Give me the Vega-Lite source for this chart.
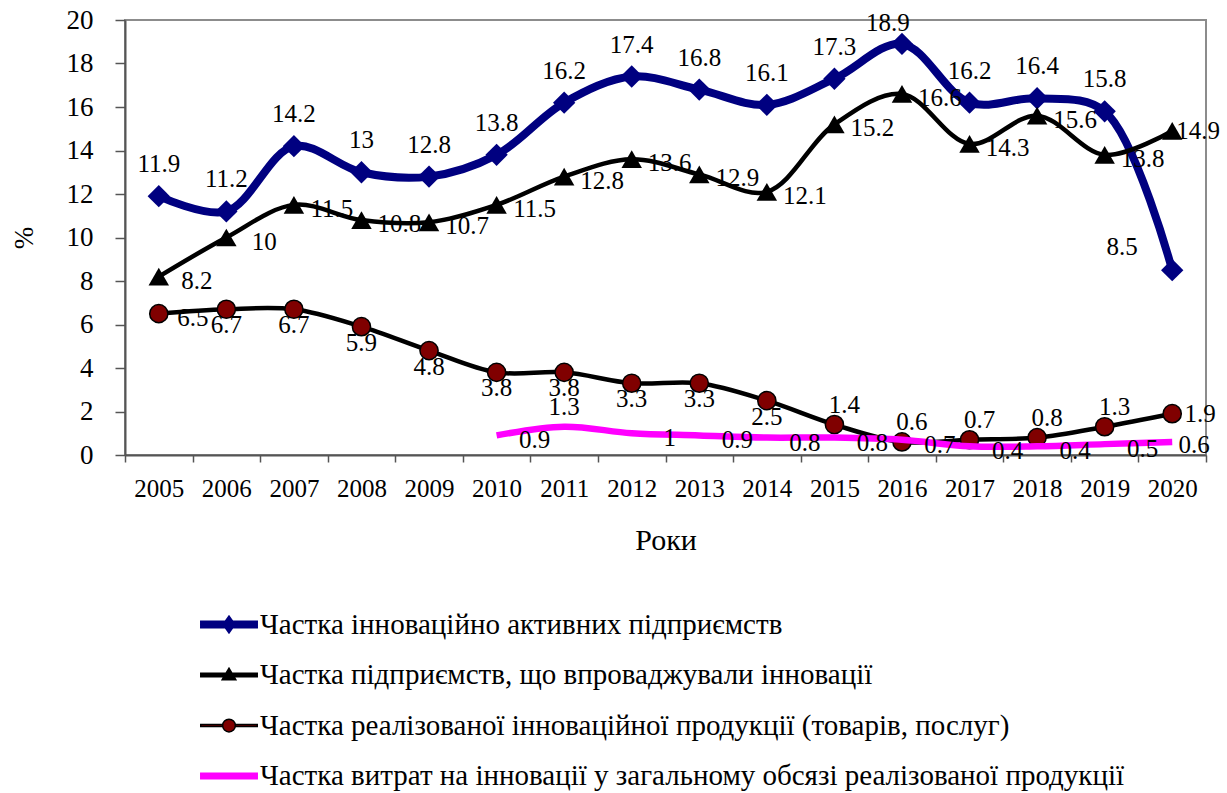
{
  "$schema": "https://vega.github.io/schema/vega-lite/v6.json",
  "width": 1081,
  "height": 435,
  "autosize": {"type": "none"},
  "padding": {"left": 125, "top": 20, "right": 21, "bottom": 338},
  "background": "white",
  "config": {
    "view": {"stroke": "#8c8c8c", "strokeWidth": 2},
    "axis": {
      "labelFont": "Liberation Serif",
      "titleFont": "Liberation Serif",
      "labelColor": "#000000",
      "titleColor": "#000000",
      "titleFontWeight": "normal",
      "grid": false,
      "domainColor": "#555555",
      "domainWidth": 2,
      "tickColor": "#555555",
      "tickWidth": 1.5
    },
    "legend": {
      "title": null,
      "orient": "none",
      "legendX": 89.5,
      "legendY": 590,
      "direction": "vertical",
      "labelFont": "Liberation Serif",
      "labelFontSize": 29,
      "labelColor": "#000000",
      "labelLimit": 0,
      "symbolSize": 289,
      "symbolStrokeWidth": 1.5,
      "symbolFillColor": "#000000",
      "symbolOpacity": 1,
      "rowPadding": 20.5,
      "labelOffset": 16.5,
      "symbolOffset": 0
    }
  },
  "datasets": {
    "d": [
      {"series": "Частка інноваційно активних підприємств", "year": 2005, "value": 11.9},
      {"series": "Частка інноваційно активних підприємств", "year": 2006, "value": 11.2},
      {"series": "Частка інноваційно активних підприємств", "year": 2007, "value": 14.2},
      {"series": "Частка інноваційно активних підприємств", "year": 2008, "value": 13},
      {"series": "Частка інноваційно активних підприємств", "year": 2009, "value": 12.8},
      {"series": "Частка інноваційно активних підприємств", "year": 2010, "value": 13.8},
      {"series": "Частка інноваційно активних підприємств", "year": 2011, "value": 16.2},
      {"series": "Частка інноваційно активних підприємств", "year": 2012, "value": 17.4},
      {"series": "Частка інноваційно активних підприємств", "year": 2013, "value": 16.8},
      {"series": "Частка інноваційно активних підприємств", "year": 2014, "value": 16.1},
      {"series": "Частка інноваційно активних підприємств", "year": 2015, "value": 17.3},
      {"series": "Частка інноваційно активних підприємств", "year": 2016, "value": 18.9},
      {"series": "Частка інноваційно активних підприємств", "year": 2017, "value": 16.2},
      {"series": "Частка інноваційно активних підприємств", "year": 2018, "value": 16.4},
      {"series": "Частка інноваційно активних підприємств", "year": 2019, "value": 15.8},
      {"series": "Частка інноваційно активних підприємств", "year": 2020, "value": 8.5},
      {"series": "Частка підприємств, що впроваджували інновації", "year": 2005, "value": 8.2},
      {"series": "Частка підприємств, що впроваджували інновації", "year": 2006, "value": 10},
      {"series": "Частка підприємств, що впроваджували інновації", "year": 2007, "value": 11.5},
      {"series": "Частка підприємств, що впроваджували інновації", "year": 2008, "value": 10.8},
      {"series": "Частка підприємств, що впроваджували інновації", "year": 2009, "value": 10.7},
      {"series": "Частка підприємств, що впроваджували інновації", "year": 2010, "value": 11.5},
      {"series": "Частка підприємств, що впроваджували інновації", "year": 2011, "value": 12.8},
      {"series": "Частка підприємств, що впроваджували інновації", "year": 2012, "value": 13.6},
      {"series": "Частка підприємств, що впроваджували інновації", "year": 2013, "value": 12.9},
      {"series": "Частка підприємств, що впроваджували інновації", "year": 2014, "value": 12.1},
      {"series": "Частка підприємств, що впроваджували інновації", "year": 2015, "value": 15.2},
      {"series": "Частка підприємств, що впроваджували інновації", "year": 2016, "value": 16.6},
      {"series": "Частка підприємств, що впроваджували інновації", "year": 2017, "value": 14.3},
      {"series": "Частка підприємств, що впроваджували інновації", "year": 2018, "value": 15.6},
      {"series": "Частка підприємств, що впроваджували інновації", "year": 2019, "value": 13.8},
      {"series": "Частка підприємств, що впроваджували інновації", "year": 2020, "value": 14.9},
      {"series": "Частка реалізованої інноваційної продукції (товарів, послуг)", "year": 2005, "value": 6.5},
      {"series": "Частка реалізованої інноваційної продукції (товарів, послуг)", "year": 2006, "value": 6.7},
      {"series": "Частка реалізованої інноваційної продукції (товарів, послуг)", "year": 2007, "value": 6.7},
      {"series": "Частка реалізованої інноваційної продукції (товарів, послуг)", "year": 2008, "value": 5.9},
      {"series": "Частка реалізованої інноваційної продукції (товарів, послуг)", "year": 2009, "value": 4.8},
      {"series": "Частка реалізованої інноваційної продукції (товарів, послуг)", "year": 2010, "value": 3.8},
      {"series": "Частка реалізованої інноваційної продукції (товарів, послуг)", "year": 2011, "value": 3.8},
      {"series": "Частка реалізованої інноваційної продукції (товарів, послуг)", "year": 2012, "value": 3.3},
      {"series": "Частка реалізованої інноваційної продукції (товарів, послуг)", "year": 2013, "value": 3.3},
      {"series": "Частка реалізованої інноваційної продукції (товарів, послуг)", "year": 2014, "value": 2.5},
      {"series": "Частка реалізованої інноваційної продукції (товарів, послуг)", "year": 2015, "value": 1.4},
      {"series": "Частка реалізованої інноваційної продукції (товарів, послуг)", "year": 2016, "value": 0.6},
      {"series": "Частка реалізованої інноваційної продукції (товарів, послуг)", "year": 2017, "value": 0.7},
      {"series": "Частка реалізованої інноваційної продукції (товарів, послуг)", "year": 2018, "value": 0.8},
      {"series": "Частка реалізованої інноваційної продукції (товарів, послуг)", "year": 2019, "value": 1.3},
      {"series": "Частка реалізованої інноваційної продукції (товарів, послуг)", "year": 2020, "value": 1.9},
      {"series": "Частка витрат на інновації у загальному обсязі реалізованої продукції", "year": 2010, "value": 0.9},
      {"series": "Частка витрат на інновації у загальному обсязі реалізованої продукції", "year": 2011, "value": 1.3},
      {"series": "Частка витрат на інновації у загальному обсязі реалізованої продукції", "year": 2012, "value": 1},
      {"series": "Частка витрат на інновації у загальному обсязі реалізованої продукції", "year": 2013, "value": 0.9},
      {"series": "Частка витрат на інновації у загальному обсязі реалізованої продукції", "year": 2014, "value": 0.8},
      {"series": "Частка витрат на інновації у загальному обсязі реалізованої продукції", "year": 2015, "value": 0.8},
      {"series": "Частка витрат на інновації у загальному обсязі реалізованої продукції", "year": 2016, "value": 0.7},
      {"series": "Частка витрат на інновації у загальному обсязі реалізованої продукції", "year": 2017, "value": 0.4},
      {"series": "Частка витрат на інновації у загальному обсязі реалізованої продукції", "year": 2018, "value": 0.4},
      {"series": "Частка витрат на інновації у загальному обсязі реалізованої продукції", "year": 2019, "value": 0.5},
      {"series": "Частка витрат на інновації у загальному обсязі реалізованої продукції", "year": 2020, "value": 0.6}
    ]
  },
  "data": {"name": "d"},
  "encoding": {
    "x": {
      "field": "year",
      "type": "ordinal",
      "scale": {"type": "band", "paddingInner": 0, "paddingOuter": 0},
      "axis": {
        "title": "Роки",
        "titleFontSize": 30,
        "titlePadding": 24,
        "labelFontSize": 25,
        "labelAngle": 0,
        "labelPadding": 14,
        "tickBand": "extent",
        "tickSize": 7
      }
    },
    "y": {
      "field": "value",
      "type": "quantitative",
      "scale": {"domain": [0, 20], "nice": false, "zero": true},
      "axis": {
        "title": "%",
        "titleFontSize": 27,
        "titlePadding": 28,
        "labelFontSize": 27,
        "labelPadding": 22,
        "tickSize": 10,
        "values": [0, 2, 4, 6, 8, 10, 12, 14, 16, 18, 20]
      }
    }
  },
  "layer": [
    {
      "transform": [{"filter": {"field": "series", "equal": "Частка інноваційно активних підприємств"}}],
      "mark": {"type": "line", "color": "#000080", "strokeWidth": 8, "interpolate": "catmull-rom"}
    },
    {
      "transform": [{"filter": {"field": "series", "equal": "Частка інноваційно активних підприємств"}}],
      "mark": {"type": "point", "shape": "diamond", "filled": true, "color": "#000080", "size": 500, "opacity": 1}
    },
    {
      "transform": [{"filter": {"field": "series", "equal": "Частка підприємств, що впроваджували інновації"}}],
      "mark": {"type": "line", "color": "#000000", "strokeWidth": 4.5, "interpolate": "catmull-rom"}
    },
    {
      "transform": [{"filter": {"field": "series", "equal": "Частка підприємств, що впроваджували інновації"}}],
      "mark": {"type": "point", "shape": "triangle-up", "filled": true, "color": "#000000", "size": 420, "opacity": 1}
    },
    {
      "transform": [{"filter": {"field": "series", "equal": "Частка реалізованої інноваційної продукції (товарів, послуг)"}}],
      "mark": {"type": "line", "color": "#000000", "strokeWidth": 4.5, "interpolate": "catmull-rom"}
    },
    {
      "transform": [{"filter": {"field": "series", "equal": "Частка реалізованої інноваційної продукції (товарів, послуг)"}}],
      "mark": {"type": "point", "shape": "circle", "filled": true, "fill": "#800000", "stroke": "#000000", "strokeWidth": 1.5, "size": 330, "opacity": 1}
    },
    {
      "transform": [{"filter": {"field": "series", "equal": "Частка витрат на інновації у загальному обсязі реалізованої продукції"}}],
      "mark": {"type": "line", "color": "#ff00ff", "strokeWidth": 6.5, "interpolate": "catmull-rom"}
    },
    {
      "mark": {"type": "point", "filled": true, "opacity": 0, "strokeWidth": 1.5},
      "encoding": {
        "fill": {
          "field": "series",
          "type": "nominal",
          "scale": {
            "domain": ["Частка інноваційно активних підприємств", "Частка підприємств, що впроваджували інновації", "Частка реалізованої інноваційної продукції (товарів, послуг)", "Частка витрат на інновації у загальному обсязі реалізованої продукції"],
            "range": ["#000080", "#000000", "#800000", "#ff00ff"]
          }
        },
        "stroke": {
          "field": "series",
          "type": "nominal",
          "scale": {
            "domain": ["Частка інноваційно активних підприємств", "Частка підприємств, що впроваджували інновації", "Частка реалізованої інноваційної продукції (товарів, послуг)", "Частка витрат на інновації у загальному обсязі реалізованої продукції"],
            "range": ["#000080", "#000000", "#000000", "#ff00ff"]
          }
        },
        "shape": {
          "field": "series",
          "type": "nominal",
          "scale": {
            "domain": ["Частка інноваційно активних підприємств", "Частка підприємств, що впроваджували інновації", "Частка реалізованої інноваційної продукції (товарів, послуг)", "Частка витрат на інновації у загальному обсязі реалізованої продукції"],
            "range": [
              "M-3.32,-0.38L3.32,-0.38L3.32,0.38L-3.32,0.38Z M-0.7,0L0,-1L0.7,0L0,1Z",
              "M-3.32,-0.2L3.32,-0.2L3.32,0.2L-3.32,0.2Z M-0.8,0.55L0,-0.8L0.8,0.55Z",
              "M-3.32,-0.12L-0.75,-0.12L-0.75,0.12L-3.32,0.12Z M0.75,-0.12L3.32,-0.12L3.32,0.12L0.75,0.12Z M-0.75,0A0.75,0.75 0 1,1 0.75,0A0.75,0.75 0 1,1 -0.75,0Z",
              "M-3.32,-0.32L3.32,-0.32L3.32,0.32L-3.32,0.32Z"
            ]
          }
        }
      }
    },
    {
      "transform": [{"filter": "datum.series === 'Частка інноваційно активних підприємств' && datum.year < 2020 && datum.year !== 2016"}],
      "mark": {"type": "text", "font": "Liberation Serif", "fontSize": 25, "color": "#000000", "baseline": "middle", "align": "center", "dy": -32},
      "encoding": {"text": {"field": "value", "type": "nominal"}}
    },
    {
      "transform": [{"filter": "datum.series === 'Частка інноваційно активних підприємств' && datum.year === 2016"}],
      "mark": {"type": "text", "font": "Liberation Serif", "fontSize": 25, "color": "#000000", "baseline": "middle", "align": "center", "dx": -14, "dy": -21},
      "encoding": {"text": {"field": "value", "type": "nominal"}}
    },
    {
      "transform": [{"filter": "datum.series === 'Частка інноваційно активних підприємств' && datum.year === 2020"}],
      "mark": {"type": "text", "font": "Liberation Serif", "fontSize": 25, "color": "#000000", "baseline": "middle", "align": "center", "dx": -50, "dy": -23},
      "encoding": {"text": {"field": "value", "type": "nominal"}}
    },
    {
      "transform": [{"filter": "datum.series === 'Частка підприємств, що впроваджували інновації' && datum.year < 2020"}],
      "mark": {"type": "text", "font": "Liberation Serif", "fontSize": 25, "color": "#000000", "baseline": "middle", "align": "center", "dx": 38, "dy": 4},
      "encoding": {"text": {"field": "value", "type": "nominal"}}
    },
    {
      "transform": [{"filter": "datum.series === 'Частка підприємств, що впроваджували інновації' && datum.year === 2020"}],
      "mark": {"type": "text", "font": "Liberation Serif", "fontSize": 25, "color": "#000000", "baseline": "middle", "align": "center", "dx": 26, "dy": 0},
      "encoding": {"text": {"field": "value", "type": "nominal"}}
    },
    {
      "transform": [{"filter": "datum.series === 'Частка реалізованої інноваційної продукції (товарів, послуг)' && datum.year <= 2014 && datum.year !== 2005"}],
      "mark": {"type": "text", "font": "Liberation Serif", "fontSize": 25, "color": "#000000", "baseline": "middle", "align": "center", "dy": 16},
      "encoding": {"text": {"field": "value", "type": "nominal"}}
    },
    {
      "transform": [{"filter": "datum.series === 'Частка реалізованої інноваційної продукції (товарів, послуг)' && datum.year === 2005"}],
      "mark": {"type": "text", "font": "Liberation Serif", "fontSize": 25, "color": "#000000", "baseline": "middle", "align": "center", "dx": 34, "dy": 4},
      "encoding": {"text": {"field": "value", "type": "nominal"}}
    },
    {
      "transform": [{"filter": "datum.series === 'Частка реалізованої інноваційної продукції (товарів, послуг)' && datum.year >= 2015 && datum.year <= 2019"}],
      "mark": {"type": "text", "font": "Liberation Serif", "fontSize": 25, "color": "#000000", "baseline": "middle", "align": "center", "dx": 10, "dy": -20},
      "encoding": {"text": {"field": "value", "type": "nominal"}}
    },
    {
      "transform": [{"filter": "datum.series === 'Частка реалізованої інноваційної продукції (товарів, послуг)' && datum.year === 2020"}],
      "mark": {"type": "text", "font": "Liberation Serif", "fontSize": 25, "color": "#000000", "baseline": "middle", "align": "center", "dx": 28, "dy": 0},
      "encoding": {"text": {"field": "value", "type": "nominal"}}
    },
    {
      "transform": [{"filter": "datum.series === 'Частка витрат на інновації у загальному обсязі реалізованої продукції' && datum.year !== 2011 && datum.year !== 2020"}],
      "mark": {"type": "text", "font": "Liberation Serif", "fontSize": 25, "color": "#000000", "baseline": "middle", "align": "center", "dx": 38, "dy": 5},
      "encoding": {"text": {"field": "value", "type": "nominal"}}
    },
    {
      "transform": [{"filter": "datum.series === 'Частка витрат на інновації у загальному обсязі реалізованої продукції' && datum.year === 2020"}],
      "mark": {"type": "text", "font": "Liberation Serif", "fontSize": 25, "color": "#000000", "baseline": "middle", "align": "center", "dx": 22, "dy": 3},
      "encoding": {"text": {"field": "value", "type": "nominal"}}
    },
    {
      "transform": [{"filter": "datum.series === 'Частка витрат на інновації у загальному обсязі реалізованої продукції' && datum.year === 2011"}],
      "mark": {"type": "text", "font": "Liberation Serif", "fontSize": 25, "color": "#000000", "baseline": "middle", "align": "center", "dy": -20},
      "encoding": {"text": {"field": "value", "type": "nominal"}}
    }
  ]
}
